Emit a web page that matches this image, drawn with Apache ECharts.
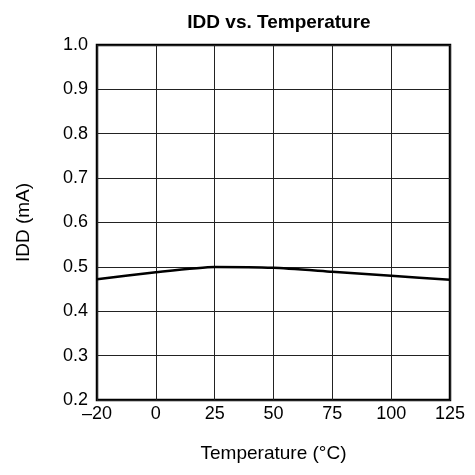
<!DOCTYPE html>
<html><head><meta charset="utf-8">
<script src="https://cdn.jsdelivr.net/npm/echarts@6/dist/echarts.min.js"></script>
<style>html,body{margin:0;padding:0;background:#fff}#c{width:475px;height:475px}</style>
</head><body><div id="c"></div>
<script>
const temperatures = ['–20', '0', '25', '50', '75', '100', '125'];
const iddValues = [0.472, 0.488, 0.500, 0.498, 0.489, 0.480, 0.471];
const yTicks = [0.2, 1.0, 0.1];

const chart = echarts.init(document.getElementById('c'));
const font = 'Liberation Sans, Arial, sans-serif';
chart.setOption({
  animation: false,
  backgroundColor: '#fff',
  title: {
    text: 'IDD vs. Temperature', left: 274, top: 8, textAlign: 'center',
    textStyle: { fontFamily: font, fontWeight: 'bold', fontSize: 19, color: '#000' }
  },
  grid: { left: 97, right: 25, top: 45, bottom: 75, show: true, borderColor: '#000', borderWidth: 2.5 },
  xAxis: {
    type: 'category', data: temperatures, boundaryGap: false,
    name: 'Temperature (°C)', nameLocation: 'middle', nameGap: 44,
    nameTextStyle: { fontFamily: font, fontSize: 19, color: '#000' },
    axisLine: { show: false }, axisTick: { show: false },
    axisLabel: { fontFamily: font, fontSize: 18, color: '#000', margin: 5 },
    splitLine: { show: true, lineStyle: { color: '#222', width: 1 } }
  },
  yAxis: {
    type: 'value', min: yTicks[0], max: yTicks[1], interval: yTicks[2],
    name: 'IDD (mA)', nameLocation: 'middle', nameGap: 64,
    nameTextStyle: { fontFamily: font, fontSize: 19, color: '#000' },
    axisLine: { show: false }, axisTick: { show: false },
    axisLabel: { fontFamily: font, fontSize: 18, color: '#000', margin: 9, formatter: v => v.toFixed(1) },
    splitLine: { show: true, lineStyle: { color: '#222', width: 1 } }
  },
  series: [{
    type: 'line', data: iddValues, smooth: 0.2, symbol: 'none',
    lineStyle: { color: '#000', width: 2.5 }
  }]
});
</script></body></html>
